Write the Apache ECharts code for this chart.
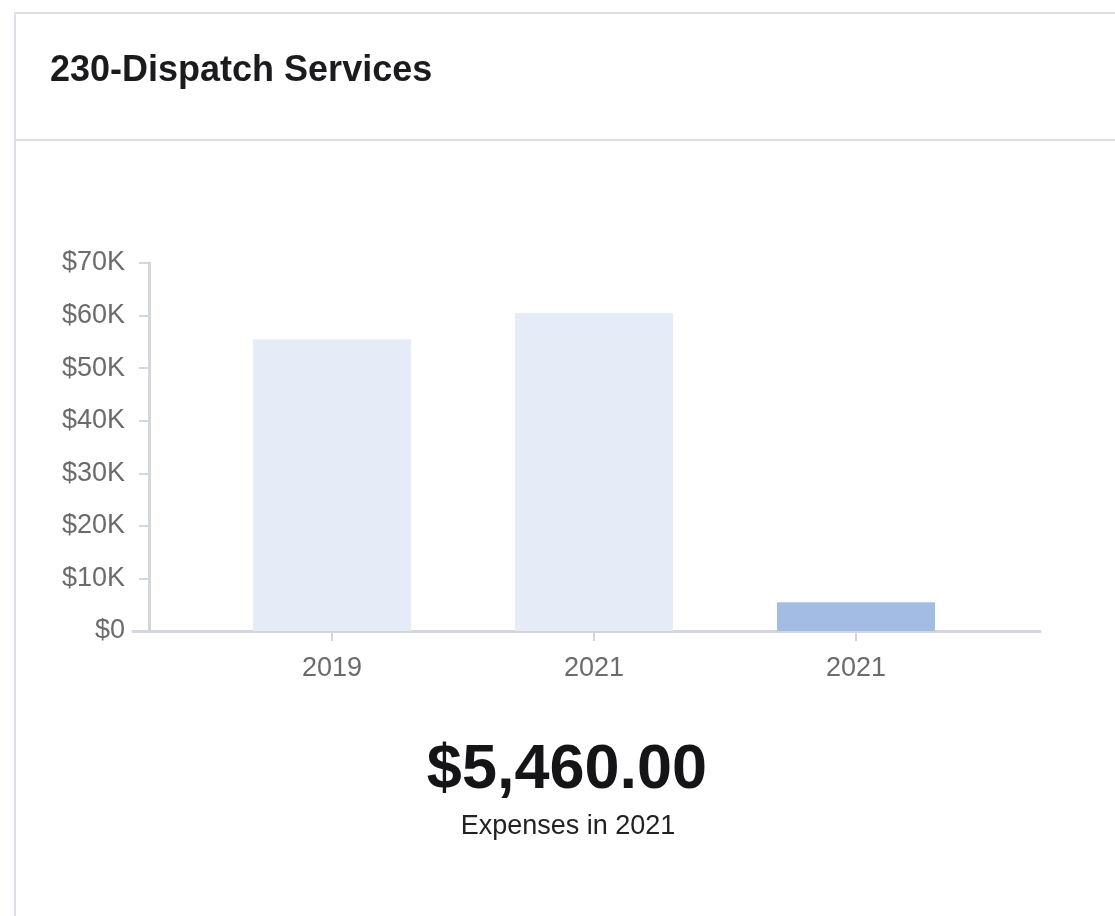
<!DOCTYPE html>
<html>
<head>
<meta charset="utf-8">
<title>230-Dispatch Services</title>
<script src="https://cdn.jsdelivr.net/npm/echarts@6/dist/echarts.min.js"></script>
<style>
  html, body { margin: 0; padding: 0; background: #ffffff; }
  #chart { width: 1115px; height: 916px; }
</style>
</head>
<body>
<div id="chart"></div>
<script>
// Yearly expenses for the department
const panelTitle = '230-Dispatch Services';
const categories = ['2019', '2021', '2021'];
const expenses = [55500, 60500, 5460];
const currentIndex = 2;

// Value axis range
const axisMin = 0;
const axisMax = 70000;
const axisStep = 10000;

const FONT = '"Liberation Sans", Arial, Helvetica, sans-serif';
const BORDER = '#dcdfe3';
const AXIS = '#d3d6dc';
const LABEL = '#6b6b6b';
const BAR_PAST = '#e5ebf7';
const BAR_CURRENT = '#a3bce4';

function money(v) {
  return '$' + v.toLocaleString('en-US', { minimumFractionDigits: 2, maximumFractionDigits: 2 });
}
function kLabel(v) {
  return v === 0 ? '$0' : '$' + (v / 1000) + 'K';
}

const chart = echarts.init(document.getElementById('chart'), null, { renderer: 'canvas' });

const option = {
  animation: false,
  backgroundColor: '#ffffff',
  textStyle: { fontFamily: FONT },
  grid: [
    // frame that carries the value axis and the long baseline
    { left: 133, right: 75, top: 263, bottom: 285 },
    // inner band that holds the bars
    { left: 201, right: 128, top: 263, bottom: 285 }
  ],
  xAxis: [
    {
      type: 'category', gridIndex: 0, data: [''],
      axisLine: { show: true, lineStyle: { color: AXIS, width: 3 } },
      axisTick: { show: false }, axisLabel: { show: false }, splitLine: { show: false }
    },
    {
      type: 'category', gridIndex: 1, data: categories,
      axisLine: { show: false },
      axisTick: { show: true, alignWithLabel: true, length: 10, lineStyle: { color: AXIS, width: 2 } },
      axisLabel: { color: LABEL, fontSize: 27, fontFamily: FONT, margin: 24 },
      splitLine: { show: false }
    }
  ],
  yAxis: [
    {
      type: 'value', gridIndex: 0, min: axisMin, max: axisMax, interval: axisStep,
      offset: -16,
      axisLine: { show: true, lineStyle: { color: AXIS, width: 3 } },
      axisTick: { show: true, length: 10, lineStyle: { color: AXIS, width: 2 } },
      axisLabel: { color: LABEL, fontSize: 27, fontFamily: FONT, margin: 24, padding: [4, 0, 0, 0], formatter: kLabel },
      splitLine: { show: false }
    },
    {
      type: 'value', gridIndex: 1, min: axisMin, max: axisMax, interval: axisStep,
      show: false, splitLine: { show: false }
    }
  ],
  series: [
    {
      type: 'bar',
      xAxisIndex: 1, yAxisIndex: 1,
      barWidth: 158,
      data: expenses.map((v, i) => ({
        value: v,
        itemStyle: { color: i === currentIndex ? BAR_CURRENT : BAR_PAST }
      }))
    }
  ],
  graphic: [
    // card outline and header divider
    { type: 'rect', shape: { x: 15, y: 13, width: 1200, height: 1000 }, style: { fill: 'none', stroke: BORDER, lineWidth: 2 }, silent: true, z: -10 },
    { type: 'line', shape: { x1: 16, y1: 140, x2: 1115, y2: 140 }, style: { stroke: BORDER, lineWidth: 2 }, silent: true, z: -10 },
    {
      type: 'text', x: 50, y: 71,
      style: { text: panelTitle, font: 'bold 36px ' + FONT, fill: '#1b1b1d', align: 'left', verticalAlign: 'middle' }
    },
    {
      type: 'text', x: 567, y: 771,
      style: { text: money(expenses[currentIndex]), font: 'bold 63px ' + FONT, fill: '#151517', align: 'center', verticalAlign: 'middle' }
    },
    {
      type: 'text', x: 568, y: 827,
      style: { text: 'Expenses in ' + categories[currentIndex], font: '27px ' + FONT, fill: '#222222', align: 'center', verticalAlign: 'middle' }
    }
  ]
};

chart.setOption(option);
</script>
</body>
</html>
